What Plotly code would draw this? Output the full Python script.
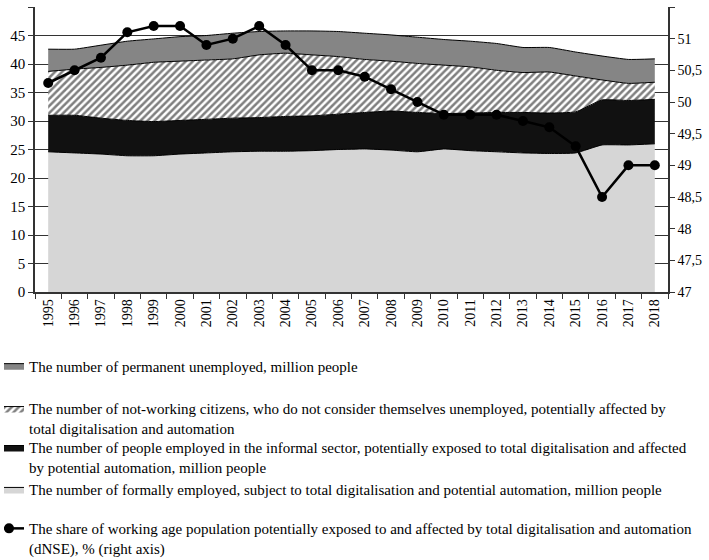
import plotly.graph_objects as go

years = [str(y) for y in range(1995, 2019)]

formal = [24.6, 24.4, 24.2, 23.9, 23.9, 24.2, 24.4, 24.6, 24.7, 24.7, 24.8, 25.0,
          25.1, 24.9, 24.6, 25.1, 24.8, 24.6, 24.4, 24.3, 24.4, 25.8, 25.8, 26.0]
informal = [6.4, 6.6, 6.3, 6.2, 6.0, 5.9, 5.9, 5.9, 5.9, 6.1, 6.1, 6.2,
            6.4, 6.85, 6.9, 6.2, 6.6, 6.9, 7.1, 7.1, 7.2, 7.9, 7.8, 7.8]
notworking = [7.7, 8.1, 8.9, 9.7, 10.4, 10.4, 10.4, 10.4, 11.0, 11.1, 10.7, 10.1,
              9.3, 8.75, 8.6, 8.5, 8.1, 7.4, 7.0, 7.2, 6.3, 3.5, 3.0, 3.0]
unemployed = [3.9, 3.5, 3.9, 4.2, 4.1, 4.3, 4.3, 4.5, 4.1, 3.9, 4.2, 4.4,
              4.6, 4.6, 4.6, 4.5, 4.5, 4.7, 4.4, 4.3, 4.2, 4.2, 4.2, 4.1]
dnse = [50.3, 50.5, 50.7, 51.1, 51.2, 51.2, 50.9, 51.0, 51.2, 50.9, 50.5, 50.5,
        50.4, 50.2, 50.0, 49.8, 49.8, 49.8, 49.7, 49.6, 49.3, 48.5, 49.0, 49.0]

names = [
    "The number of permanent unemployed, million people",
    "The number of not-working citizens, who do not consider themselves unemployed, potentially affected by<br>total digitalisation and automation",
    "The number of people employed in the informal sector, potentially exposed to total digitalisation and affected<br>by potential automation, million people",
    "The number of formally employed, subject to total digitalisation and potential automation, million people",
    "The share of working age population potentially exposed to and affected by total digitalisation and automation<br>(dNSE), % (right axis)",
]

FONT = "Liberation Serif"
W, H = 709, 560
L, R, T, B = 35, 41, 7, 267.5
pw = W - L - R
ph = H - T - B


def py(ypx):
    return (H - B - ypx) / ph


def px(xpx):
    return (xpx - L) / pw


fig = go.Figure()
line_style = dict(color="black", width=1, shape="spline", smoothing=0.4)

fig.add_trace(go.Scatter(x=years, y=formal, name=names[3], stackgroup="s",
                         mode="lines", line=line_style, fillcolor="#d6d6d6",
                         legend="legend4"))
fig.add_trace(go.Scatter(x=years, y=informal, name=names[2], stackgroup="s",
                         mode="lines", line=line_style, fillcolor="#111111",
                         legend="legend3"))
fig.add_trace(go.Scatter(x=years, y=notworking, name=names[1], stackgroup="s",
                         mode="lines", line=line_style, fillcolor="white",
                         fillpattern=dict(shape="/", fgcolor="black", bgcolor="white",
                                          size=5, solidity=0.5),
                         legend="legend2"))
fig.add_trace(go.Scatter(x=years, y=unemployed, name=names[0], stackgroup="s",
                         mode="lines", line=line_style, fillcolor="#858585",
                         legend="legend"))
fig.add_trace(go.Scatter(x=years, y=dnse, name=names[4], yaxis="y2",
                         mode="lines+markers", line=dict(color="black", width=2.5),
                         marker=dict(color="black", size=10),
                         legend="legend5"))

leg_common = dict(font=dict(family=FONT, size=15, color="black"),
                  bgcolor="rgba(0,0,0,0)", x=px(4), xanchor="left",
                  yanchor="top", valign="top", itemwidth=30, tracegroupgap=0,
                  indentation=-15)
legend_centers = [366, 409, 448, 490, 529]
legkeys = ["legend", "legend2", "legend3", "legend4", "legend5"]
layout_legends = {}
for k, c in zip(legkeys, legend_centers):
    layout_legends[k] = dict(leg_common, y=py(c - 16))

fig.update_layout(
    width=W, height=H,
    margin=dict(l=L, r=R, t=T, b=B, pad=0, autoexpand=False),
    paper_bgcolor="white", plot_bgcolor="white",
    separators=", ",
    font=dict(family=FONT, color="black"),
    showlegend=True,
    xaxis=dict(type="category", range=[-0.5, 23.5], tickangle=-90,
               tickson="boundaries", ticks="outside", ticklen=5,
               tickcolor="#333", showline=True, linecolor="#333", linewidth=1.5,
               showgrid=False, tickfont=dict(family=FONT, size=14, color="black")),
    yaxis=dict(range=[0, 50], dtick=5, ticks="outside", ticklen=5,
               tickcolor="#333", showline=True, linecolor="#333", linewidth=1.5,
               showgrid=True, gridcolor="#333", gridwidth=1, zeroline=False,
               tickfont=dict(family=FONT, size=15, color="black")),
    yaxis2=dict(range=[47, 51.5], dtick=0.5, overlaying="y", side="right",
                ticks="outside", ticklen=5, tickcolor="#333", showline=True,
                linecolor="#333", linewidth=1.5, showgrid=False, zeroline=False,
                tickfont=dict(family=FONT, size=14, color="black")),
    **layout_legends,
)

fig.write_html("out.html", config={"displayModeBar": False},
               post_script="document.body.style.margin='0';document.body.style.overflow='hidden';")
